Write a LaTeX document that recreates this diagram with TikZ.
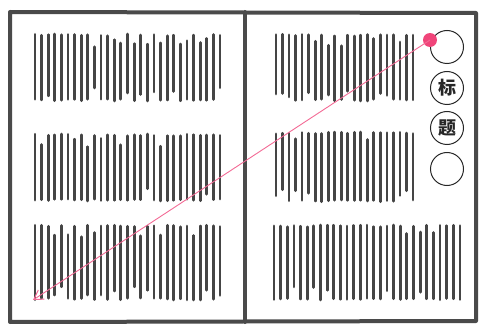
\documentclass[tikz,border=0pt]{standalone}
\usepackage{fontspec}
\newfontfamily\cjk{Noto Sans CJK SC}
\usetikzlibrary{arrows.meta}
\definecolor{framegray}{HTML}{4A4A4A}
\definecolor{inkgray}{HTML}{454545}
\definecolor{hotpink}{HTML}{F0457A}
\tikzset{
  frame/.style={draw=framegray, line width=4pt, line join=round, line cap=round},
  txtline/.style={draw=inkgray, line width=2.8pt, line cap=round},
  titlecircle/.style={circle, draw=black!85, line width=1pt, minimum size=33pt, inner sep=0pt, font=\cjk\bfseries\fontsize{18}{18}\selectfont, text=black!85},
  pinkdot/.style={circle, fill=hotpink, minimum size=14pt, inner sep=0pt},
  pinkarrow/.style={draw=hotpink!80, line width=0.9pt, -{Straight Barb[length=9pt, width=11pt, line width=1pt]}}
}
\newcommand\txtblock[5]{%
  \pgfmathsetmacro\dxx{(#2-#1)/(#5-1)}%
  \foreach \i in {1,...,#5}{%
    \pgfmathsetmacro\xx{#1+(\i-1)*\dxx}%
    \pgfmathsetmacro\ta{rnd<0.2 ? 4+9*rnd : 2*rnd}%
    \pgfmathsetmacro\tb{rnd<0.2 ? 4+10*rnd : 2*rnd}%
    \draw[txtline] ({\xx},{#3+\ta}) -- ({\xx},{#4-\tb});
  }}
\begin{document}
\begin{tikzpicture}[x=1pt, y=-1pt]
\useasboundingbox (0,0) rectangle (483,329);
\pgfmathsetseed{7}
% frame
\draw[frame] (10,12) -- (476,13) -- (476,321) -- (10,322) -- cycle;
\draw[frame] (245,12) -- (245,322);
% left page text
\txtblock{35}{220}{34}{101}{29}
\txtblock{35}{220}{134}{201}{29}
\txtblock{35}{220}{225}{300}{29}
% right page text
\txtblock{276}{413}{34}{101}{22}
\txtblock{276}{413}{132}{202}{22}
\txtblock{274}{460}{225}{300}{29}
% title circles
\node[titlecircle] (c1) at (447,47) {};
\node[titlecircle] (c2) at (447,88) {标};
\node[titlecircle] (c3) at (447,128) {题};
\node[titlecircle] (c4) at (447,169) {};
% reading direction
\coordinate (tip) at (33,300);
\node[pinkdot] (dot) at (430,40) {};
\draw[pinkarrow] (dot.center) -- (tip);
\end{tikzpicture}
\end{document}
